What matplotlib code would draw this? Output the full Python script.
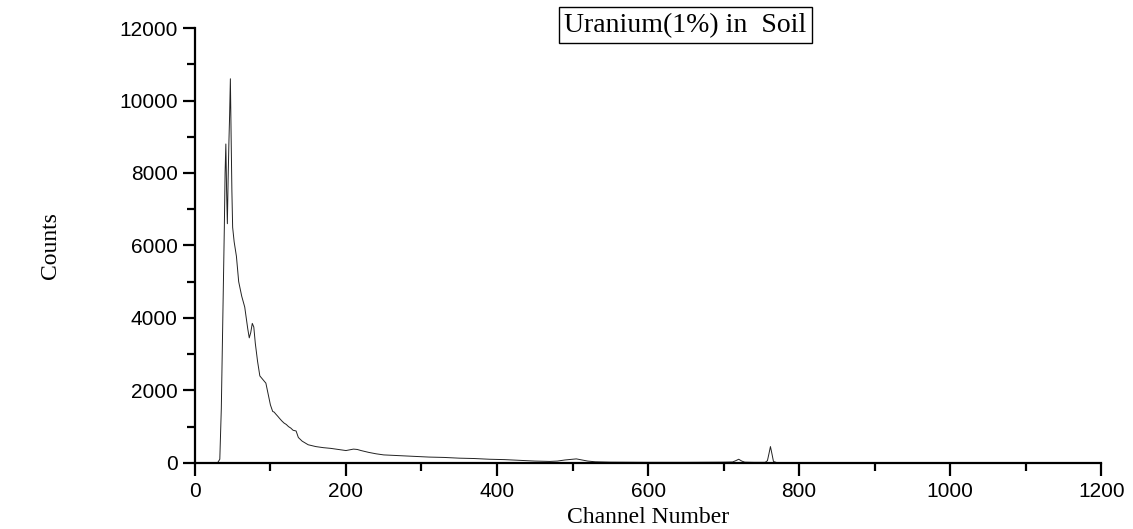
import matplotlib.pyplot as plt
from matplotlib.ticker import MultipleLocator

# channel / counts
channel = [0, 30, 33, 35, 37, 39, 40, 41, 42, 43, 44, 45, 46, 47, 48, 49, 50,
           52, 55, 58, 62, 66, 70, 72, 74, 76, 78, 80, 83, 86, 88, 90, 92, 94,
           97, 100, 103, 105, 107, 110, 112, 115, 118, 121, 124, 127, 130, 134,
           137, 142, 150, 160, 170, 180, 190, 200, 205, 210, 215, 220, 230, 240,
           250, 270, 290, 310, 330, 350, 370, 390, 410, 430, 450, 470, 480, 490,
           500, 505, 510, 520, 530, 550, 600, 650, 700, 712, 716, 720, 724, 728,
           740, 755, 758, 760, 762, 764, 766, 770, 780]
counts = [0, 0, 100, 1500, 4000, 6500, 8000, 8800, 7500, 6600, 7800, 8800,
          9600, 10600, 9000, 7500, 6500, 6100, 5700, 5000, 4600, 4300, 3700,
          3450, 3600, 3850, 3750, 3300, 2800, 2400, 2350, 2300, 2250, 2200,
          1900, 1600, 1420, 1400, 1350, 1280, 1230, 1160, 1100, 1060, 1000,
          960, 900, 880, 700, 600, 500, 450, 420, 400, 370, 340, 360, 380, 370,
          340, 290, 250, 220, 200, 180, 160, 150, 130, 120, 100, 90, 70, 50, 40,
          50, 80, 100, 110, 90, 50, 30, 20, 15, 15, 20, 25, 60, 100, 50, 20, 15,
          15, 60, 250, 450, 250, 40, 10, 0]

fig = plt.figure(figsize=(11.33, 5.29), dpi=100)
ax = fig.add_axes([0.172, 0.125, 0.8, 0.822])

ax.plot(channel, counts, color='#222222', linewidth=0.7)

ax.set_xlim(0, 1200)
ax.set_ylim(0, 12000)
ax.xaxis.set_major_locator(MultipleLocator(200))
ax.xaxis.set_minor_locator(MultipleLocator(100))
ax.yaxis.set_major_locator(MultipleLocator(2000))
ax.yaxis.set_minor_locator(MultipleLocator(1000))

for s in ['top', 'right']:
    ax.spines[s].set_visible(False)
for s in ['left', 'bottom']:
    ax.spines[s].set_linewidth(1.6)
ax.tick_params(which='major', length=9, width=1.6, labelsize=15, direction='out')
ax.tick_params(which='minor', length=6, width=1.6, direction='out')
ax.tick_params(axis='x', pad=5)
for lab in ax.get_xticklabels() + ax.get_yticklabels():
    lab.set_family('Liberation Sans')

serif = 'Liberation Serif'
ax.set_xlabel('Channel Number', family=serif, fontsize=17, labelpad=4)
ax.set_ylabel('Counts', family=serif, fontsize=17, labelpad=42)

fig.text(0.605, 0.952, 'Uranium(1%) in  Soil', family=serif, fontsize=20,
         ha='center', va='center',
         bbox=dict(boxstyle='square,pad=0.2', facecolor='white', edgecolor='black', linewidth=1))

fig.savefig('out.png', dpi=100)
